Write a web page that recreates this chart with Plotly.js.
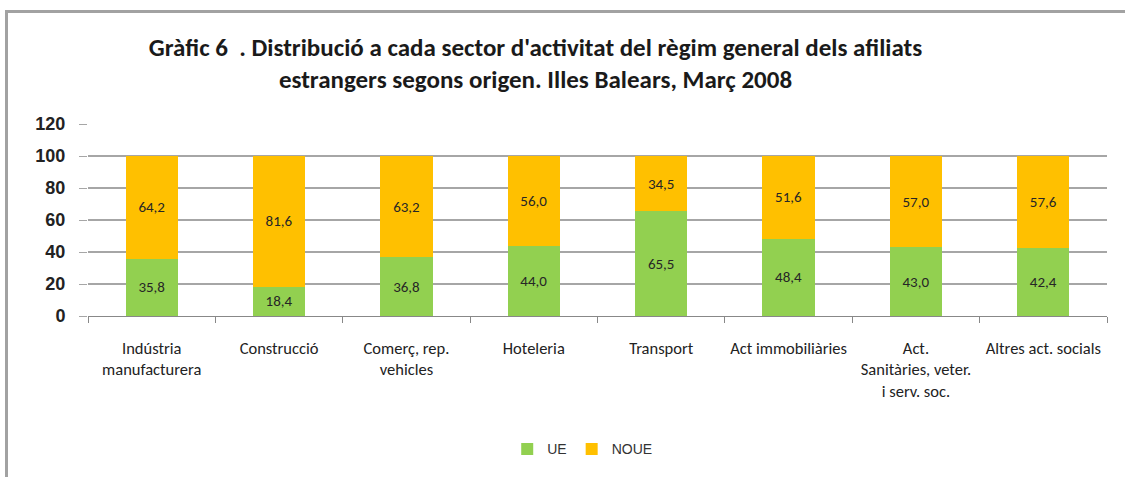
<!DOCTYPE html>
<html>
<head>
<meta charset="utf-8">
<script src="https://cdn.plot.ly/plotly-3.0.1.min.js"></script>
<style>
html,body{margin:0;padding:0;background:#fff;}
#wrap{position:relative;width:1125px;height:477px;overflow:hidden;}
#chart{width:1125px;height:477px;}
#frame{position:absolute;left:5px;top:10px;width:1200px;height:600px;border-left:3px solid #a2a2a2;border-top:3px solid #a2a2a2;pointer-events:none;}
</style>
</head>
<body>
<div id="wrap"><div id="chart"></div><div id="frame"></div></div>
<script>
const categories = ["Indústria<br>manufacturera", "Construcció", "Comerç, rep.<br>vehicles", "Hoteleria", "Transport", "Act immobiliàries", "Act.<br>Sanitàries, veter.<br>i serv. soc.", "Altres act. socials"];
const ue = [35.8, 18.4, 36.8, 44.0, 65.5, 48.4, 43.0, 42.4];
const noue = [64.2, 81.6, 63.2, 56.0, 34.5, 51.6, 57.0, 57.6];
const seriesNames = ["UE", "NOUE"];
const yTicks = [0, 20, 40, 60, 80, 100, 120];

const fmt = v => v.toFixed(1).replace('.', ',');
const narrow = "Liberation Sans Narrow, Carlito, Lato, sans-serif";
const labelFont = {family: narrow, size: 15, color: "#262626"};

const traces = [
  {type: "bar", name: seriesNames[0], x: categories, y: ue, marker: {color: "#92D050"},
   text: ue.map(fmt), textposition: "inside", insidetextanchor: "middle", textangle: 0,
   textfont: labelFont, hoverinfo: "none"},
  {type: "bar", name: seriesNames[1], x: categories, y: noue, marker: {color: "#FFC000"},
   text: noue.map(fmt), textposition: "inside", insidetextanchor: "middle", textangle: 0,
   textfont: labelFont, hoverinfo: "none"}
];

const layout = {
  width: 1125, height: 477,
  paper_bgcolor: "#fff", plot_bgcolor: "#fff",
  barmode: "stack", bargap: 0.59,
  margin: {l: 88, r: 18, t: 124, b: 161, autoexpand: false},
  title: {
    text: "<b>Gràfic 6  . Distribució a cada sector d'activitat del règim general dels afiliats<br>estrangers segons origen. Illes Balears, Març 2008</b>",
    font: {family: narrow, size: 25, color: "#1a1a1a"},
    x: 0.476, xanchor: "center", xref: "container", y: 0.883, yanchor: "middle"
  },
  xaxis: {
    type: "category", tickson: "boundaries", ticks: "outside", ticklen: 6, tickcolor: "#888",
    showline: true, linecolor: "#888", linewidth: 1,
    tickfont: {family: narrow, size: 16.5, color: "#222"},
    ticklabelstandoff: 17,
    automargin: false
  },
  yaxis: {
    range: [0, 120], tickvals: yTicks, ticktext: yTicks.map(String),
    showgrid: true, gridcolor: "#a6a6a6", gridwidth: 1.5,
    ticks: "outside", ticklen: 8, tickcolor: "#a6a6a6",
    showline: false, zeroline: false,
    tickfont: {family: "Liberation Sans, Arial, sans-serif", size: 18, color: "#222", weight: "bold"},
    ticklabelstandoff: 10,
    automargin: false
  },
  showlegend: true,
  legend: {
    orientation: "h", x: 0.485, xanchor: "center", yref: "container", y: 0.058, yanchor: "middle",
    font: {family: "Liberation Sans, Arial, sans-serif", size: 14, color: "#333"},
    itemwidth: 30, traceorder: "normal"
  }
};

Plotly.newPlot("chart", traces, layout, {displayModeBar: false, staticPlot: true});
</script>
</body>
</html>
